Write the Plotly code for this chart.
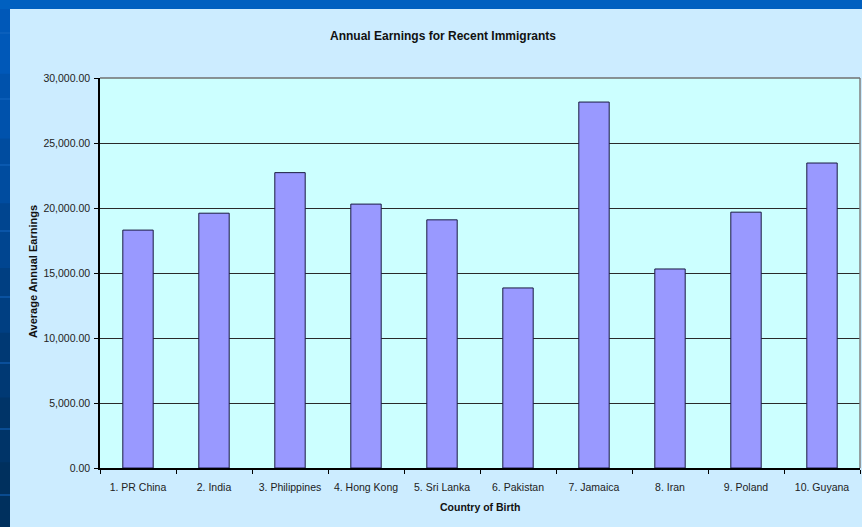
import plotly.graph_objects as go

categories = ["1. PR China", "2. India", "3. Philippines", "4. Hong Kong", "5. Sri Lanka",
              "6. Pakistan", "7. Jamaica", "8. Iran", "9. Poland", "10. Guyana"]
earnings = [18300, 19600, 22720, 20300, 19090, 13850, 28150, 15310, 19680, 23460]
y_ticks = [0, 5000, 10000, 15000, 20000, 25000, 30000]

W, H = 862, 527
L, R, T, B = 100, 2, 78, 59
pw, ph = W - L - R, H - T - B


def px_x(x):
    return (x - L) / pw


def px_y(y):
    return (H - B - y) / ph


fig = go.Figure()
fig.add_trace(go.Bar(
    x=categories, y=earnings,
    marker=dict(color="#9999FF", line=dict(color="#1a1a40", width=1)),
    hoverinfo="x+y",
))

shapes = []
# top blue band
shapes.append(dict(type="rect", xref="paper", yref="paper", x0=px_x(-5), x1=px_x(W + 5),
                   y0=px_y(9), y1=px_y(-5), fillcolor="#0060C0", line=dict(width=0), layer="below"))
# left strip with stepped gradient
steps = ["#0058B8", "#0052AC", "#004C9F", "#004590", "#003F82", "#003974", "#003468", "#00305E"]
n = len(steps)
for i, c in enumerate(steps):
    y0 = 9 + i * (H - 9) / n
    y1 = 9 + (i + 1) * (H - 9) / n
    shapes.append(dict(type="rect", xref="paper", yref="paper", x0=px_x(-5), x1=px_x(10),
                       y0=px_y(y1 + 1), y1=px_y(y0), fillcolor=c, line=dict(width=0), layer="below"))
for yy in [33, 99, 165, 231, 297, 363, 429, 495]:
    shapes.append(dict(type="line", xref="paper", yref="paper", x0=px_x(0), x1=px_x(10),
                       y0=px_y(yy), y1=px_y(yy), line=dict(color="#1466C0", width=1), layer="below"))
# plot area top/right border
shapes.append(dict(type="line", xref="paper", yref="paper", x0=1, x1=1, y0=0, y1=1,
                   line=dict(color="#808080", width=1.5)))
shapes.append(dict(type="line", xref="paper", yref="paper", x0=0, x1=1, y0=1, y1=1,
                   line=dict(color="#707070", width=1.5)))

font = "Liberation Sans, Arial, sans-serif"
fig.update_layout(
    width=W, height=H,
    margin=dict(l=L, r=R, t=T, b=B),
    paper_bgcolor="#CCECFF",
    plot_bgcolor="#CCFFFF",
    bargap=0.6,
    showlegend=False,
    font=dict(family=font, size=10.5, color="#222222"),
    shapes=shapes,
    annotations=[
        dict(text="<b>Annual Earnings for Recent Immigrants</b>", xref="paper", yref="paper",
             x=px_x(443), y=px_y(36), showarrow=False, font=dict(size=12, color="#111111"),
             xanchor="center", yanchor="middle"),
        dict(text="<b>Average Annual Earnings</b>", xref="paper", yref="paper",
             x=px_x(33), y=px_y(272), showarrow=False, textangle=-90,
             font=dict(size=11, color="#111111"), xanchor="center", yanchor="middle"),
        dict(text="<b>Country of Birth</b>", xref="paper", yref="paper",
             x=px_x(481), y=px_y(507), showarrow=False, font=dict(size=10.5, color="#111111"),
             xanchor="center", yanchor="middle"),
    ],
    xaxis=dict(
        type="category", showline=True, linecolor="black", linewidth=1.5,
        ticks="outside", ticklen=4, tickcolor="black", tickson="boundaries",
        showgrid=False, fixedrange=True, tickfont=dict(size=10.5),
        ticklabelstandoff=9,
    ),
    yaxis=dict(
        range=[0, 30000], tickvals=y_ticks, tickformat=",.2f",
        showline=True, linecolor="black", linewidth=1.5,
        ticks="outside", ticklen=4, tickcolor="black",
        showgrid=True, gridcolor="#2a2a2a", gridwidth=1, zeroline=False,
        fixedrange=True, tickfont=dict(size=10.5), ticklabelstandoff=2,
    ),
)

fig.write_html(
    "out.html",
    config={"displayModeBar": False},
    post_script="document.body.style.margin='0';document.body.style.overflow='hidden';",
)
